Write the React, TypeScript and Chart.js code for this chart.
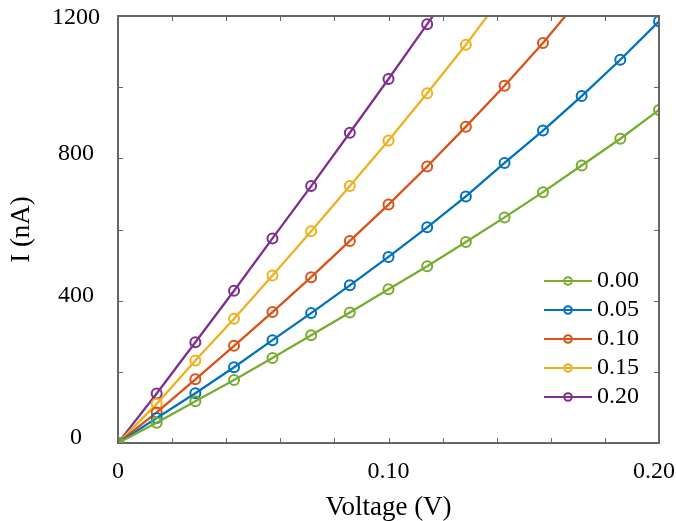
import React, { useEffect, useRef } from 'react';
import { Chart, registerables } from 'chart.js';

Chart.register(...registerables);

// ---- data ----
const voltage = [0, 0.0143, 0.0286, 0.0429, 0.0571, 0.0714, 0.0857, 0.1, 0.1143, 0.1286, 0.1429, 0.1571, 0.1714, 0.1857, 0.2];
const seriesNames = ['0.00', '0.05', '0.10', '0.15', '0.20'];
const current000 = [0, 57, 117, 177, 239, 303, 367, 432, 497, 565, 634, 705, 780, 855, 936];
const current005 = [0, 70, 140, 213, 289, 365, 443, 523, 606, 693, 787, 878, 975, 1077, 1185];
const current010 = [0, 86, 179, 273, 368, 466, 568, 670, 777, 889, 1004, 1124, 1255];
const current015 = [0, 110, 232, 349, 471, 595, 722, 850, 983, 1119, 1265];
const current020 = [0, 139, 283, 428, 575, 722, 872, 1023, 1177, 1331];
const seriesColors = ['#77AC30', '#0072BD', '#D95319', '#EDB120', '#7E2F8E'];

const xTickValues = [0, 0.1, 0.2];
const xTickLabels = ['0', '0.10', '0.20'];
const yTickValues = [0, 400, 800, 1200];
const yTickLabels = ['0', '400', '800', '1200'];

const xTitle = 'Voltage (V)';
const yTitle = 'I (nA)';

const FONT = "'Liberation Serif', 'Times New Roman', serif";
const AXIS = '#666666';

const allSeries = [current000, current005, current010, current015, current020];

const framePlugin = {
  id: 'frameAndLegend',
  afterDatasetsDraw(chart: any) {
    const { ctx, chartArea: a, scales } = chart;
    const xs = scales.x;
    const ys = scales.y;
    ctx.save();
    // top / right box lines
    ctx.strokeStyle = AXIS;
    ctx.lineWidth = 2;
    ctx.beginPath();
    ctx.moveTo(a.left - 1, a.top);
    ctx.lineTo(a.right, a.top);
    ctx.lineTo(a.right, a.bottom + 1);
    ctx.stroke();
    // inward ticks on all four sides
    ctx.lineWidth = 1;
    ctx.beginPath();
    xs.ticks.forEach((t: any) => {
      const p = Math.round(xs.getPixelForValue(t.value)) + 0.5;
      ctx.moveTo(p, a.bottom);
      ctx.lineTo(p, a.bottom - 5);
      ctx.moveTo(p, a.top);
      ctx.lineTo(p, a.top + 5);
    });
    ys.ticks.forEach((t: any) => {
      const p = Math.round(ys.getPixelForValue(t.value)) + 0.5;
      ctx.moveTo(a.left, p);
      ctx.lineTo(a.left + 5, p);
      ctx.moveTo(a.right, p);
      ctx.lineTo(a.right - 5, p);
    });
    ctx.stroke();

    ctx.fillStyle = '#000';
    ctx.font = `24px ${FONT}`;
    ctx.textBaseline = 'middle';

    // x tick labels (kept inside the canvas)
    ctx.textAlign = 'center';
    xTickValues.forEach((v, i) => {
      const w = ctx.measureText(xTickLabels[i]).width;
      let p = xs.getPixelForValue(v);
      p = Math.min(p, chart.width - w / 2 - 1);
      ctx.fillText(xTickLabels[i], p, a.bottom + 29);
    });

    // y tick labels (centred in the label column, kept inside the canvas)
    const colCentre = a.left - 42;
    yTickValues.forEach((v, i) => {
      const p = Math.max(ys.getPixelForValue(v) - 5, 18);
      ctx.fillText(yTickLabels[i], colCentre, p);
    });

    // legend inside the plot, bottom right
    chart.data.datasets.forEach((ds: any, i: number) => {
      const y = a.bottom - 162 + i * 29;
      ctx.strokeStyle = ds.borderColor;
      ctx.lineWidth = 2.2;
      ctx.beginPath();
      ctx.moveTo(a.right - 115, y);
      ctx.lineTo(a.right - 67, y);
      ctx.stroke();
      ctx.lineWidth = 2;
      ctx.beginPath();
      ctx.arc(a.right - 91, y, 3.8, 0, Math.PI * 2);
      ctx.stroke();
      ctx.fillStyle = '#000';
      ctx.textAlign = 'left';
      ctx.fillText(ds.label, a.right - 62, y);
    });
    ctx.restore();
  },
};

export default function App() {
  const canvasRef = useRef<HTMLCanvasElement | null>(null);

  useEffect(() => {
    const canvas = canvasRef.current;
    if (!canvas) return;
    const datasets = allSeries.map((vals, i) => ({
      label: seriesNames[i],
      data: vals.map((y, k) => ({ x: voltage[k], y })),
      borderColor: seriesColors[i],
      backgroundColor: seriesColors[i],
      borderWidth: 2.3,
      pointRadius: 5,
      pointBorderWidth: 2,
      pointBackgroundColor: 'rgba(0,0,0,0)',
      pointBorderColor: seriesColors[i],
      tension: 0,
    }));

    const chart = new Chart(canvas, {
      type: 'line',
      data: { datasets },
      options: {
        animation: false,
        responsive: false,
        layout: { padding: { top: 16, right: 17, left: 0, bottom: 0 } },
        plugins: {
          legend: { display: false },
          tooltip: { enabled: false },
        },
        scales: {
          x: {
            type: 'linear',
            min: 0,
            max: 0.2,
            grid: { display: false, drawTicks: false },
            border: { display: true, color: AXIS, width: 2 },
            ticks: { display: false, stepSize: 0.02 },
            title: {
              display: true,
              text: xTitle,
              color: '#000',
              font: { family: FONT, size: 27, lineHeight: 1.0 },
              padding: { top: 0, bottom: 0 },
            },
            afterFit: (s: any) => {
              s.height = 78;
              s.paddingLeft = 0;
              s.paddingRight = 0;
            },
          },
          y: {
            type: 'linear',
            min: 0,
            max: 1200,
            grid: { display: false, drawTicks: false },
            border: { display: true, color: AXIS, width: 2 },
            ticks: { display: false, stepSize: 200, autoSkip: false },
            title: {
              display: true,
              text: yTitle,
              color: '#000',
              font: { family: FONT, size: 27, lineHeight: 1.2 },
              padding: { top: 6, bottom: 0 },
            },
            afterFit: (s: any) => {
              s.width = 118;
              s.paddingTop = 0;
              s.paddingBottom = 0;
            },
          },
        },
      },
      plugins: [framePlugin],
    });
    return () => chart.destroy();
  }, []);

  return (
    <div style={{ position: 'absolute', left: 0, top: 0, width: 676, height: 521, background: '#fff' }}>
      <canvas ref={canvasRef} width={676} height={521} style={{ display: 'block' }} />
    </div>
  );
}
